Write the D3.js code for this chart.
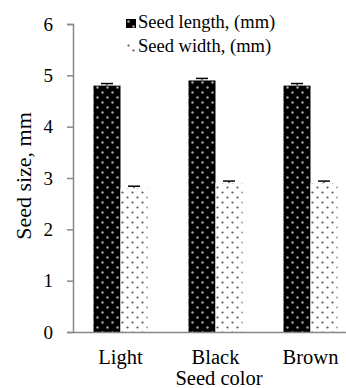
<!DOCTYPE html>
<html>
<head>
<meta charset="utf-8">
<script src="https://cdn.jsdelivr.net/npm/d3@7"></script>
<style>
  body { margin: 0; background: #fff; }
  svg { display: block; }
  text { font-family: "Liberation Serif", "Times New Roman", serif; fill: #000; }
</style>
</head>
<body>
<div id="chart"></div>
<script>
const categories = ["Light", "Black", "Brown"];
const seriesNames = ["Seed length, (mm)", "Seed width, (mm)"];
const seedLength = [4.8, 4.9, 4.8];
const seedWidth = [2.8, 2.9, 2.9];
const lengthErr = [0.04, 0.04, 0.04];
const widthErr = [0.04, 0.04, 0.04];
const yTicks = [0, 1, 2, 3, 4, 5, 6];

const width = 346, height = 388;
const serif = "'Liberation Serif', 'Times New Roman', serif";
const svg = d3.select("#chart").append("svg")
  .attr("width", width).attr("height", height);

// dotted fills, staggered lattice
const defs = svg.append("defs");
let pLen = defs.append("pattern").attr("id", "pLen")
  .attr("patternUnits", "userSpaceOnUse").attr("width", 10).attr("height", 10);
pLen.append("rect").attr("width", 10).attr("height", 10).attr("fill", "#000");
pLen.append("circle").attr("cx", 2.5).attr("cy", 2.5).attr("r", 1.2).attr("fill", "#aaa");
pLen.append("circle").attr("cx", 7.5).attr("cy", 7.5).attr("r", 1.2).attr("fill", "#aaa");

let pWid = defs.append("pattern").attr("id", "pWid")
  .attr("patternUnits", "userSpaceOnUse").attr("width", 10).attr("height", 10);
pWid.append("rect").attr("width", 10).attr("height", 10).attr("fill", "#fff");
pWid.append("circle").attr("cx", 2.5).attr("cy", 2.5).attr("r", 1.1).attr("fill", "#555");
pWid.append("circle").attr("cx", 7.5).attr("cy", 7.5).attr("r", 1.1).attr("fill", "#555");

const fills = ["url(#pLen)", "url(#pWid)"];

let x = d3.scaleBand().domain(categories).range([73, 358]);
let y = d3.scaleLinear().domain([0, 6]).range([332, 24]);
let barW = 27;

let data = [];
categories.forEach((c, i) => {
  data.push({ cat: c, s: 0, v: seedLength[i], e: lengthErr[i] });
  data.push({ cat: c, s: 1, v: seedWidth[i], e: widthErr[i] });
});

svg.selectAll(".bar").data(data).enter().append("rect")
  .attr("class", "bar")
  .attr("x", d => x(d.cat) + x.bandwidth() / 2 - barW + d.s * barW)
  .attr("y", d => y(d.v))
  .attr("width", barW)
  .attr("height", d => y(0) - y(d.v))
  .attr("fill", d => fills[d.s]);

// error bars
let err = svg.selectAll(".err").data(data).enter().append("g").attr("class", "err");
let cx = d => x(d.cat) + x.bandwidth() / 2 - barW / 2 + d.s * barW;
err.append("line")
  .attr("x1", cx).attr("x2", cx)
  .attr("y1", d => y(d.v)).attr("y2", d => y(d.v + d.e))
  .attr("stroke", "#000").attr("stroke-width", 1);
err.append("line")
  .attr("x1", d => cx(d) - 6).attr("x2", d => cx(d) + 6)
  .attr("y1", d => y(d.v + d.e)).attr("y2", d => y(d.v + d.e))
  .attr("stroke", "#000").attr("stroke-width", 1.5);

// y axis
let yAxis = svg.append("g")
  .attr("transform", "translate(73,0)")
  .call(d3.axisLeft(y).tickValues(yTicks).tickFormat(d3.format("d")).tickSize(6).tickPadding(14))
  .attr("font-family", serif).attr("font-size", 19);
yAxis.select(".domain").attr("stroke", "#888").attr("stroke-width", 1.5);
yAxis.selectAll(".tick line").attr("stroke", "#888").attr("stroke-width", 1.5);

// x axis
let xAxis = svg.append("g")
  .attr("transform", "translate(0,332)")
  .call(d3.axisBottom(x).tickSize(0).tickPadding(17))
  .attr("font-family", serif).attr("font-size", 20.5);
xAxis.select(".domain").attr("stroke", "#888").attr("stroke-width", 1.5);

// axis titles
svg.append("text")
  .attr("transform", "rotate(-90)")
  .attr("x", -176).attr("y", 31)
  .attr("font-family", serif)
  .style("text-anchor", "middle")
  .style("font-size", "22px")
  .text("Seed size, mm");

svg.append("text")
  .attr("x", 219).attr("y", 385)
  .attr("font-family", serif)
  .style("text-anchor", "middle")
  .style("font-size", "20.5px")
  .text("Seed color");

// legend
let legend = svg.selectAll(".legend").data(seriesNames).enter().append("g")
  .attr("class", "legend")
  .attr("transform", (d, i) => "translate(126," + (19 + i * 24) + ")");
legend.append("rect").attr("width", 10).attr("height", 9)
  .attr("fill", (d, i) => fills[i]);
legend.append("text")
  .attr("x", 12).attr("y", 9)
  .attr("font-family", serif)
  .style("font-size", "18.5px")
  .text(d => d);
</script>
</body>
</html>
